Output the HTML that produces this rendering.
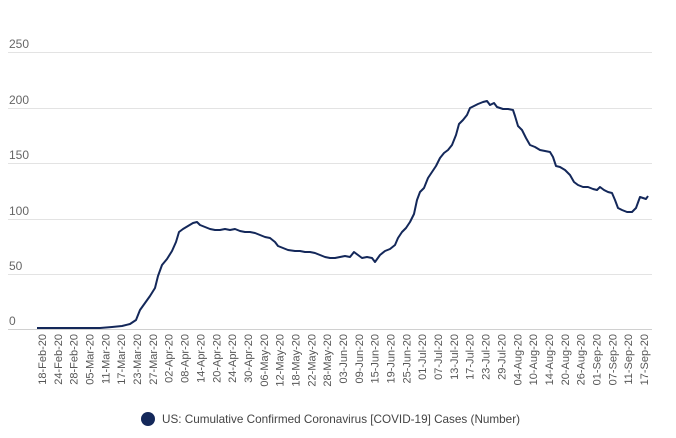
<!DOCTYPE html>
<html><head><meta charset="utf-8"><style>
body{margin:0;background:#fff;width:676px;height:433px;overflow:hidden;font-family:"Liberation Sans",sans-serif}
</style></head><body>
<svg width="676" height="433" xmlns="http://www.w3.org/2000/svg">
<g stroke="#e3e3e3" stroke-width="1">
<line x1="8" x2="652" y1="52.5" y2="52.5"/>
<line x1="8" x2="652" y1="108.5" y2="108.5"/>
<line x1="8" x2="652" y1="163.5" y2="163.5"/>
<line x1="8" x2="652" y1="219.5" y2="219.5"/>
<line x1="8" x2="652" y1="274.5" y2="274.5"/>
<line x1="8" x2="652" y1="329.5" y2="329.5" stroke="#d0d0d0"/>
</g>
<g font-size="12" fill="#666">
<text x="9" y="48">250</text><text x="9" y="104">200</text><text x="9" y="159">150</text>
<text x="9" y="215">100</text><text x="9" y="270">50</text><text x="9" y="325">0</text>
</g>
<polyline fill="none" stroke="#14285a" stroke-width="2" stroke-linejoin="round" points="37,328 100,328 112,327 122,326 130,324 136,320 140,310 145,303 150,296 155,288 158,276 162,265 167,259 172,251 176,242 179,232 183,229 188,226 193,223 197,222 200,225 205,227 210,229 215,230 220,230 225,229 230,230 235,229 240,231 245,232 250,232 255,233 260,235 265,237 270,238 275,242 278,246 283,248 288,250 295,251 300,251 305,252 310,252 315,253 320,255 325,257 330,258 335,258 340,257 345,256 350,257 354,252 358,255 362,258 367,257 372,258 375,262 380,255 385,251 390,249 395,245 398,238 402,232 406,228 410,222 414,214 417,200 420,192 424,188 428,178 432,172 436,166 440,158 444,153 448,150 452,145 456,135 459,124 463,120 467,115 470,108 474,106 478,104 483,102 487,101 490,105 494,103 497,107 503,109 508,109 513,110 515,116 518,126 522,130 526,138 530,145 535,147 540,150 545,151 550,152 553,157 556,166 560,167 565,170 570,175 574,182 578,185 583,187 588,187 593,189 597,190 600,187 604,190 608,192 612,193 615,200 618,208 622,210 627,212 632,212 636,208 640,197 643,198 646,199 648,196"/>
<g font-size="11" fill="#555" id="xl"></g>
<circle cx="148" cy="419" r="7" fill="#14285a"/>
<text x="162" y="423" font-size="12" fill="#444" textLength="358" lengthAdjust="spacingAndGlyphs">US: Cumulative Confirmed Coronavirus [COVID-19] Cases (Number)</text>
</svg>
<script>
var L="18-Feb-20 24-Feb-20 28-Feb-20 05-Mar-20 11-Mar-20 17-Mar-20 23-Mar-20 27-Mar-20 02-Apr-20 08-Apr-20 14-Apr-20 20-Apr-20 24-Apr-20 30-Apr-20 06-May-20 12-May-20 18-May-20 22-May-20 28-May-20 03-Jun-20 09-Jun-20 15-Jun-20 19-Jun-20 25-Jun-20 01-Jul-20 07-Jul-20 13-Jul-20 17-Jul-20 23-Jul-20 29-Jul-20 04-Aug-20 10-Aug-20 14-Aug-20 20-Aug-20 26-Aug-20 01-Sep-20 07-Sep-20 11-Sep-20 17-Sep-20".split(" ");
var g=document.getElementById("xl"),ns="http://www.w3.org/2000/svg";
L.forEach(function(s,i){var x=46+i*(648-46)/(L.length-1);var t=document.createElementNS(ns,"text");t.setAttribute("transform","translate("+x+",334) rotate(-90)");t.setAttribute("text-anchor","end");t.textContent=s;g.appendChild(t);});
</script>
</body></html>
